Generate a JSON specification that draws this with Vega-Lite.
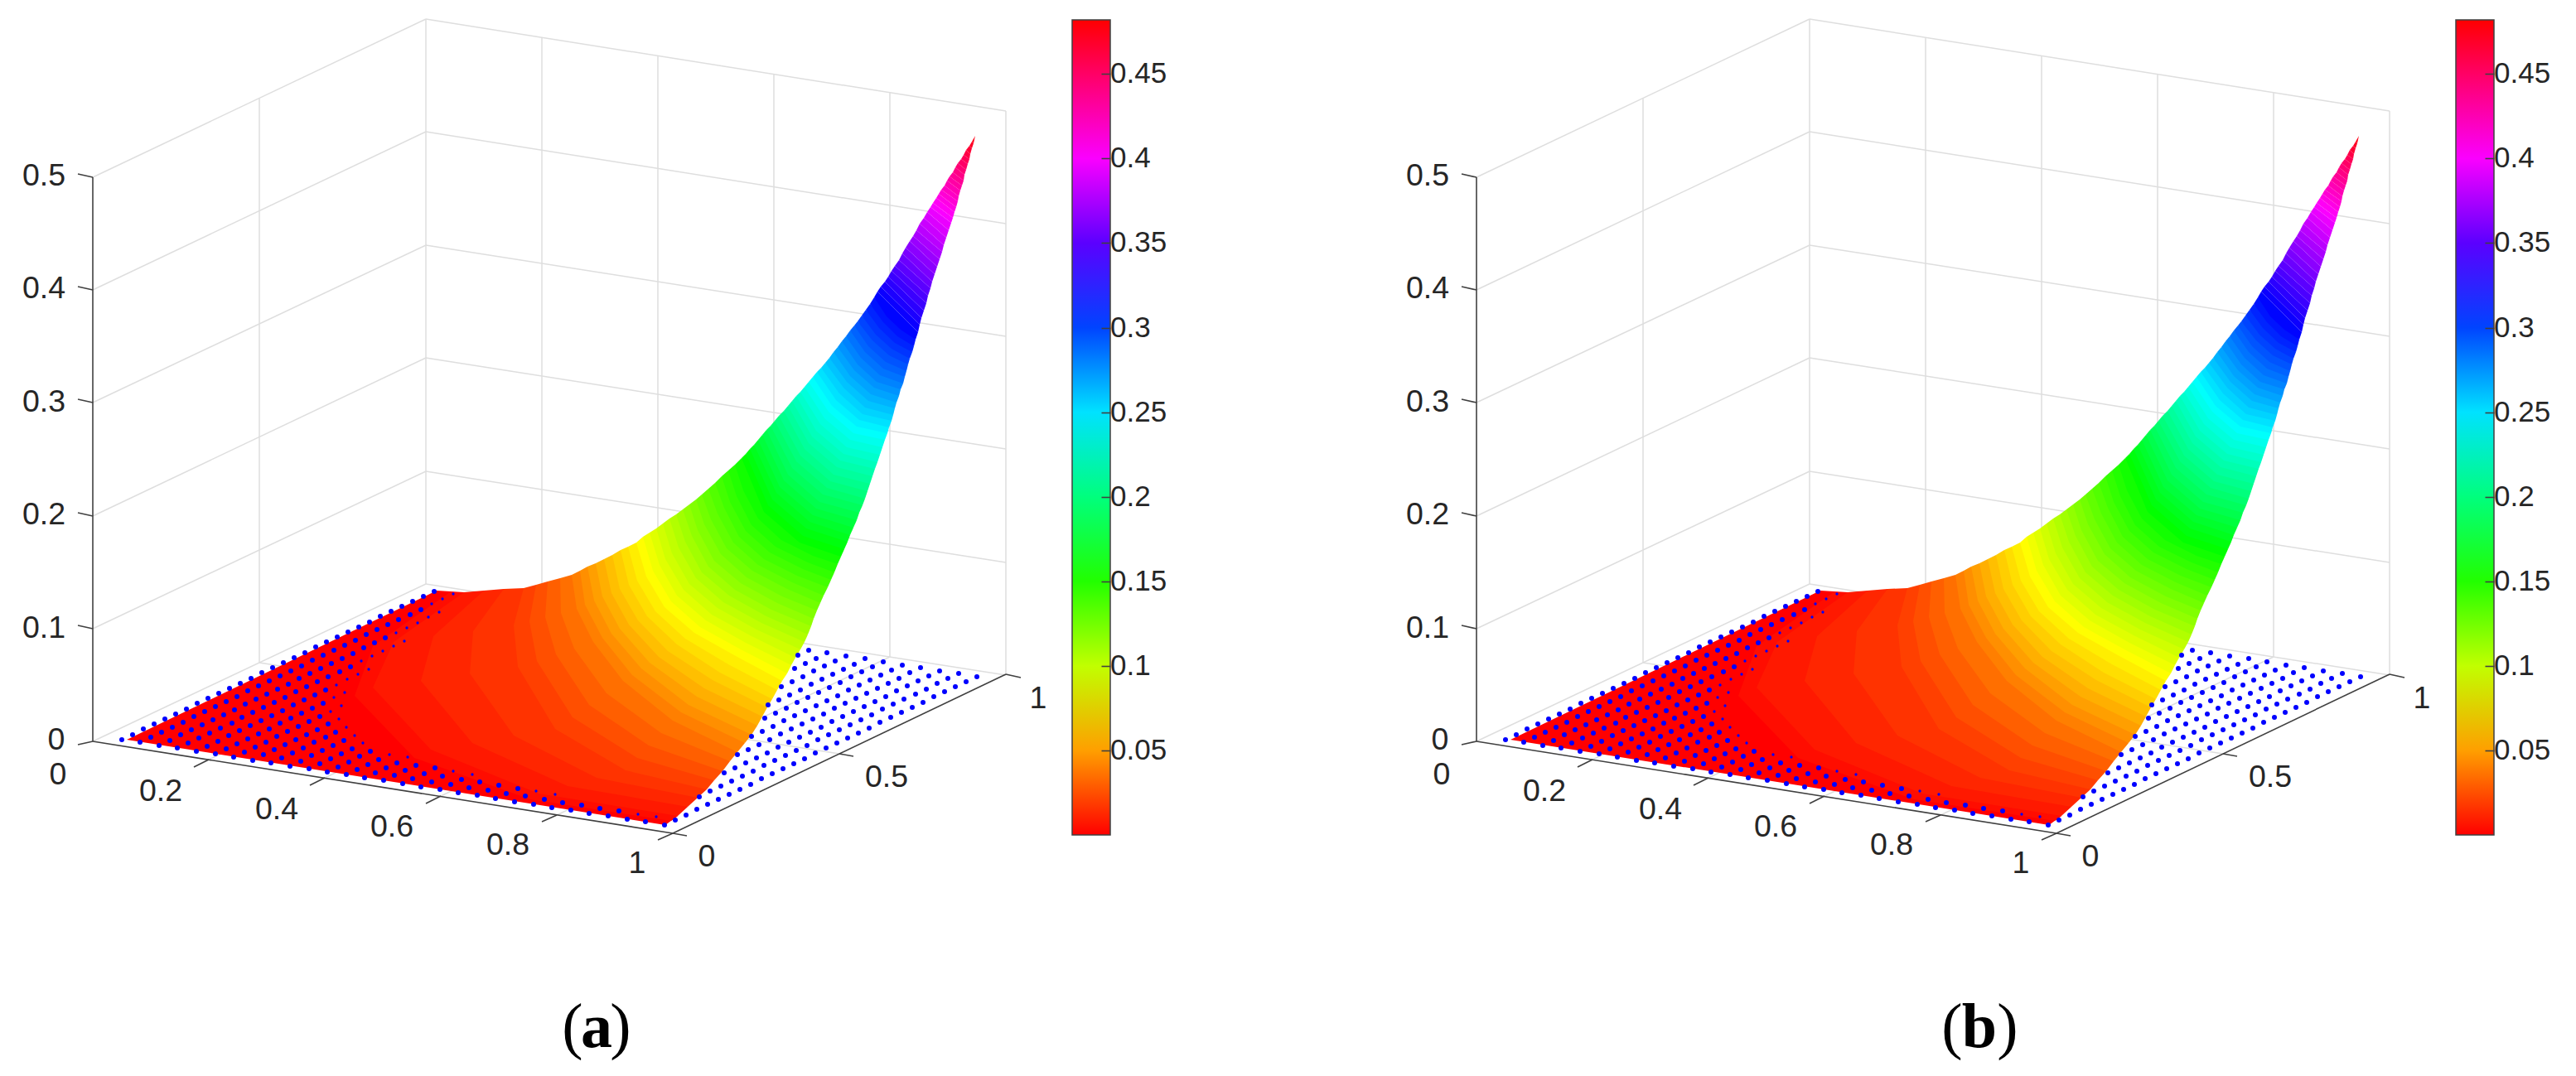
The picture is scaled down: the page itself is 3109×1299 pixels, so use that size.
{"$schema":"https://vega.github.io/schema/vega-lite/v6.json","padding":0,"spacing":240,"config":{"view":{"stroke":null}},
"resolve":{"scale":{"fill":"independent"},"legend":{"fill":"independent"}},
"datasets":{
"grid":[
{"x":514,"y":705,"x2":514,"y2":23},{"x":654,"y":727,"x2":654,"y2":45},{"x":794,"y":749,"x2":794,"y2":67},{"x":934,"y":771,"x2":934,"y2":90},{"x":1074,"y":793,"x2":1074,"y2":112},{"x":1214,"y":815,"x2":1214,"y2":134},{"x":313,"y":800,"x2":313,"y2":119},
{"x":112,"y":895,"x2":514,"y2":705},{"x":112,"y":759,"x2":514,"y2":569},{"x":112,"y":623,"x2":514,"y2":432},{"x":112,"y":486,"x2":514,"y2":296},{"x":112,"y":350,"x2":514,"y2":159},{"x":112,"y":214,"x2":514,"y2":23},
{"x":514,"y":705,"x2":1214,"y2":815},{"x":514,"y":569,"x2":1214,"y2":679},{"x":514,"y":432,"x2":1214,"y2":542},{"x":514,"y":296,"x2":1214,"y2":406},{"x":514,"y":159,"x2":1214,"y2":270},{"x":514,"y":23,"x2":1214,"y2":134},
{"x":252,"y":917,"x2":654,"y2":727},{"x":392,"y":939,"x2":794,"y2":749},{"x":532,"y":961,"x2":934,"y2":771},{"x":672,"y":984,"x2":1074,"y2":793},{"x":313,"y":800,"x2":1013,"y2":910}],
"axes":[
{"x":112,"y":214,"x2":112,"y2":895},{"x":112,"y":895,"x2":812,"y2":1006},{"x":812,"y":1006,"x2":1214,"y2":814},
{"x":112,"y":895,"x2":94,"y2":899},{"x":252,"y":917,"x2":234,"y2":926},{"x":392,"y":939,"x2":374,"y2":948},{"x":532,"y":961,"x2":514,"y2":970},{"x":672,"y":984,"x2":654,"y2":992},{"x":812,"y":1006,"x2":794,"y2":1014},
{"x":812,"y":1006,"x2":829,"y2":1009},{"x":1013,"y":910,"x2":1030,"y2":913},{"x":1214,"y":814,"x2":1232,"y2":818},
{"x":112,"y":759,"x2":94,"y2":755},{"x":112,"y":623,"x2":94,"y2":619},{"x":112,"y":486,"x2":94,"y2":482},{"x":112,"y":350,"x2":94,"y2":346},{"x":112,"y":214,"x2":94,"y2":210}],
"labels":[
{"x":53,"y":213,"t":"0.5"},{"x":53,"y":349,"t":"0.4"},{"x":53,"y":486,"t":"0.3"},{"x":53,"y":622,"t":"0.2"},{"x":53,"y":759,"t":"0.1"},{"x":68,"y":894,"t":"0"},
{"x":70,"y":936,"t":"0"},{"x":194,"y":956,"t":"0.2"},{"x":334,"y":978,"t":"0.4"},{"x":473,"y":999,"t":"0.6"},{"x":613,"y":1021,"t":"0.8"},{"x":769,"y":1043,"t":"1"},
{"x":853,"y":1035,"t":"0"},{"x":1070,"y":939,"t":"0.5"},{"x":1253,"y":844,"t":"1"}],
"dots":[
{"x":147,"y":893},{"x":169,"y":896},{"x":192,"y":900},{"x":214,"y":903},{"x":237,"y":907},{"x":260,"y":910},{"x":282,"y":914},{"x":305,"y":918},{"x":327,"y":921},{"x":350,"y":925},{"x":373,"y":928},{"x":395,"y":932},{"x":418,"y":935},{"x":440,"y":939},{"x":463,"y":942},{"x":486,"y":946},{"x":508,"y":950},{"x":531,"y":953},{"x":553,"y":957},{"x":576,"y":960},{"x":598,"y":964},{"x":621,"y":968},{"x":644,"y":971},{"x":666,"y":975},{"x":689,"y":978},{"x":711,"y":982},{"x":734,"y":985},{"x":757,"y":989},{"x":779,"y":992},{"x":802,"y":996},
{"x":160,"y":887},{"x":182,"y":890},{"x":205,"y":894},{"x":227,"y":897},{"x":250,"y":901},{"x":273,"y":904},{"x":295,"y":908},{"x":318,"y":911},{"x":340,"y":915},{"x":363,"y":919},{"x":386,"y":922},{"x":408,"y":926},{"x":431,"y":929},{"x":453,"y":933},{"x":476,"y":936},{"x":498,"y":940},{"x":521,"y":944},{"x":544,"y":947},{"x":566,"y":951},{"x":589,"y":954},{"x":611,"y":958},{"x":634,"y":961},{"x":657,"y":965},{"x":679,"y":969},{"x":702,"y":972},{"x":724,"y":976},{"x":747,"y":979},
{"x":173,"y":880},{"x":195,"y":884},{"x":218,"y":887},{"x":240,"y":891},{"x":263,"y":895},{"x":286,"y":898},{"x":308,"y":902},{"x":331,"y":905},{"x":353,"y":909},{"x":376,"y":912},{"x":399,"y":916},{"x":421,"y":920},{"x":444,"y":923},{"x":466,"y":927},{"x":489,"y":930},{"x":512,"y":934},{"x":534,"y":937},{"x":557,"y":941},{"x":579,"y":944},{"x":602,"y":948},{"x":625,"y":952},
{"x":186,"y":874},{"x":208,"y":878},{"x":231,"y":881},{"x":253,"y":885},{"x":276,"y":888},{"x":299,"y":892},{"x":321,"y":896},{"x":344,"y":899},{"x":366,"y":903},{"x":389,"y":906},{"x":412,"y":910},{"x":434,"y":913},{"x":457,"y":917},{"x":479,"y":921},{"x":502,"y":924},{"x":525,"y":927},
{"x":199,"y":868},{"x":221,"y":872},{"x":244,"y":875},{"x":266,"y":879},{"x":289,"y":882},{"x":312,"y":886},{"x":334,"y":889},{"x":357,"y":893},{"x":379,"y":896},{"x":402,"y":900},{"x":425,"y":904},{"x":447,"y":907},
{"x":212,"y":862},{"x":234,"y":865},{"x":257,"y":869},{"x":280,"y":873},{"x":302,"y":876},{"x":325,"y":880},{"x":347,"y":883},{"x":370,"y":887},{"x":393,"y":890},{"x":415,"y":894},
{"x":225,"y":856},{"x":247,"y":859},{"x":270,"y":863},{"x":292,"y":866},{"x":315,"y":870},{"x":338,"y":873},{"x":360,"y":877},{"x":383,"y":881},{"x":405,"y":884},
{"x":238,"y":849},{"x":260,"y":853},{"x":283,"y":857},{"x":305,"y":860},{"x":328,"y":864},{"x":351,"y":867},{"x":373,"y":871},{"x":396,"y":874},
{"x":251,"y":843},{"x":273,"y":847},{"x":296,"y":850},{"x":318,"y":854},{"x":341,"y":858},{"x":364,"y":861},{"x":386,"y":865},
{"x":264,"y":837},{"x":286,"y":841},{"x":309,"y":844},{"x":331,"y":848},{"x":354,"y":851},{"x":377,"y":855},
{"x":277,"y":831},{"x":299,"y":834},{"x":322,"y":838},{"x":344,"y":842},{"x":367,"y":845},{"x":390,"y":849},
{"x":290,"y":825},{"x":312,"y":828},{"x":335,"y":832},{"x":357,"y":835},{"x":380,"y":839},
{"x":303,"y":819},{"x":325,"y":822},{"x":348,"y":826},{"x":370,"y":829},{"x":393,"y":833},
{"x":316,"y":812},{"x":338,"y":816},{"x":361,"y":819},{"x":383,"y":823},
{"x":329,"y":806},{"x":351,"y":810},{"x":374,"y":813},{"x":396,"y":817},
{"x":342,"y":800},{"x":364,"y":804},{"x":387,"y":807},{"x":410,"y":811},
{"x":355,"y":794},{"x":377,"y":797},{"x":400,"y":801},{"x":423,"y":805},
{"x":368,"y":788},{"x":390,"y":791},{"x":413,"y":795},
{"x":381,"y":781},{"x":403,"y":785},{"x":426,"y":789},
{"x":394,"y":775},{"x":416,"y":779},{"x":439,"y":782},
{"x":407,"y":769},{"x":429,"y":773},{"x":452,"y":776},
{"x":420,"y":763},{"x":442,"y":766},{"x":465,"y":770},
{"x":433,"y":757},{"x":455,"y":760},
{"x":446,"y":751},{"x":468,"y":754},
{"x":459,"y":744},{"x":481,"y":748},
{"x":472,"y":738},{"x":495,"y":742},
{"x":485,"y":732},{"x":508,"y":736},
{"x":498,"y":726},{"x":511,"y":720},{"x":524,"y":714},
{"x":815,"y":990},{"x":828,"y":984},{"x":841,"y":977},{"x":854,"y":971},
{"x":844,"y":962},{"x":867,"y":965},{"x":857,"y":955},{"x":880,"y":959},{"x":870,"y":949},{"x":893,"y":953},{"x":883,"y":943},{"x":906,"y":947},
{"x":874,"y":933},{"x":896,"y":937},{"x":919,"y":940},{"x":887,"y":927},{"x":909,"y":931},{"x":932,"y":934},{"x":900,"y":921},{"x":922,"y":924},{"x":945,"y":928},
{"x":890,"y":911},{"x":913,"y":915},{"x":935,"y":918},{"x":958,"y":922},{"x":903,"y":905},{"x":926,"y":909},{"x":948,"y":912},{"x":971,"y":916},{"x":916,"y":899},{"x":939,"y":902},{"x":961,"y":906},{"x":984,"y":909},
{"x":907,"y":889},{"x":929,"y":893},{"x":952,"y":896},{"x":974,"y":900},{"x":997,"y":903},{"x":920,"y":883},{"x":942,"y":886},{"x":965,"y":890},{"x":987,"y":893},{"x":1010,"y":897},{"x":933,"y":877},{"x":955,"y":880},{"x":978,"y":884},{"x":1000,"y":887},{"x":1023,"y":891},
{"x":923,"y":867},{"x":946,"y":870},{"x":968,"y":874},{"x":991,"y":878},{"x":1013,"y":881},{"x":1036,"y":885},{"x":936,"y":861},{"x":959,"y":864},{"x":981,"y":868},{"x":1004,"y":871},{"x":1026,"y":875},{"x":1049,"y":879},
{"x":927,"y":851},{"x":949,"y":855},{"x":972,"y":858},{"x":994,"y":862},{"x":1017,"y":865},{"x":1039,"y":869},{"x":1062,"y":872},{"x":940,"y":845},{"x":962,"y":848},{"x":985,"y":852},{"x":1007,"y":855},{"x":1030,"y":859},{"x":1052,"y":863},{"x":1075,"y":866},{"x":953,"y":839},{"x":975,"y":842},{"x":998,"y":846},{"x":1020,"y":849},{"x":1043,"y":853},{"x":1065,"y":856},{"x":1088,"y":860},
{"x":943,"y":829},{"x":966,"y":833},{"x":988,"y":836},{"x":1011,"y":840},{"x":1033,"y":843},{"x":1056,"y":847},{"x":1078,"y":850},{"x":1101,"y":854},{"x":956,"y":823},{"x":979,"y":826},{"x":1001,"y":830},{"x":1024,"y":833},{"x":1046,"y":837},{"x":1069,"y":841},{"x":1091,"y":844},{"x":1114,"y":848},{"x":969,"y":817},{"x":992,"y":820},{"x":1014,"y":824},{"x":1037,"y":827},{"x":1059,"y":831},{"x":1082,"y":834},{"x":1105,"y":838},{"x":1127,"y":841},
{"x":959,"y":807},{"x":982,"y":810},{"x":1005,"y":814},{"x":1027,"y":817},{"x":1050,"y":821},{"x":1072,"y":825},{"x":1095,"y":828},{"x":1118,"y":832},{"x":1140,"y":835},{"x":972,"y":801},{"x":995,"y":804},{"x":1018,"y":808},{"x":1040,"y":811},{"x":1063,"y":815},{"x":1085,"y":819},{"x":1108,"y":822},{"x":1131,"y":825},{"x":1153,"y":829},
{"x":963,"y":791},{"x":985,"y":795},{"x":1008,"y":798},{"x":1031,"y":802},{"x":1053,"y":805},{"x":1076,"y":809},{"x":1098,"y":812},{"x":1121,"y":816},{"x":1144,"y":819},{"x":1166,"y":823},{"x":976,"y":785},{"x":998,"y":788},{"x":1021,"y":792},{"x":1044,"y":795},{"x":1066,"y":799},{"x":1089,"y":803},{"x":1111,"y":806},{"x":1134,"y":810},{"x":1157,"y":813},{"x":1179,"y":817}],
"dotsFaint":[
{"x":770,"y":983},{"x":792,"y":986},{"x":647,"y":955},{"x":670,"y":959},{"x":547,"y":931},{"x":570,"y":935},{"x":470,"y":911},{"x":492,"y":914},{"x":438,"y":897},{"x":428,"y":888},{"x":418,"y":878},{"x":409,"y":868},{"x":399,"y":859},{"x":412,"y":852},{"x":403,"y":842},{"x":416,"y":836},{"x":406,"y":827},{"x":419,"y":820},{"x":432,"y":814},{"x":445,"y":808},{"x":436,"y":798},{"x":449,"y":792},{"x":462,"y":786},{"x":475,"y":780},{"x":488,"y":774},{"x":478,"y":764},{"x":491,"y":758},{"x":504,"y":752},{"x":517,"y":745},{"x":530,"y":739},{"x":521,"y":729},{"x":534,"y":723},{"x":547,"y":717}],
"surface":[
{"x":153,"y":893,"z":0},{"x":527,"y":713,"z":0},{"x":560,"y":715,"z":0},{"x":818,"y":985,"z":0},{"x":803,"y":996,"z":0},
{"x":543,"y":715,"z":0.004},{"x":450,"y":780,"z":0.004},{"x":428,"y":840,"z":0.004},{"x":500,"y":915,"z":0.004},{"x":640,"y":965,"z":0.004},{"x":810,"y":991,"z":0.004},{"x":818,"y":985,"z":0.004},{"x":560,"y":715,"z":0.004},
{"x":560,"y":715,"z":0.008},{"x":475,"y":775,"z":0.008},{"x":450,"y":830,"z":0.008},{"x":520,"y":905,"z":0.008},{"x":650,"y":958,"z":0.008},{"x":818,"y":985,"z":0.008},{"x":830,"y":974,"z":0.008},{"x":584,"y":713,"z":0.008},
{"x":584,"y":713,"z":0.012},{"x":523,"y":768,"z":0.012},{"x":508,"y":822,"z":0.012},{"x":570,"y":897,"z":0.012},{"x":685,"y":949,"z":0.012},{"x":830,"y":974,"z":0.012},{"x":842,"y":963,"z":0.012},{"x":608,"y":711,"z":0.012},
{"x":608,"y":711,"z":0.016},{"x":571,"y":762,"z":0.016},{"x":567,"y":813,"z":0.016},{"x":620,"y":888,"z":0.016},{"x":720,"y":939,"z":0.016},{"x":842,"y":963,"z":0.016},{"x":853,"y":953,"z":0.016},{"x":632,"y":710,"z":0.016},
{"x":632,"y":710,"z":0.02},{"x":620,"y":755,"z":0.02},{"x":625,"y":805,"z":0.02},{"x":670,"y":880,"z":0.02},{"x":755,"y":930,"z":0.02},{"x":853,"y":953,"z":0.02},{"x":862,"y":942,"z":0.02},{"x":647,"y":706,"z":0.02},
{"x":647,"y":706,"z":0.025},{"x":639,"y":750,"z":0.025},{"x":648,"y":798,"z":0.025},{"x":691,"y":866,"z":0.025},{"x":769,"y":915,"z":0.025},{"x":862,"y":942,"z":0.025},{"x":872,"y":931,"z":0.025},{"x":661,"y":702,"z":0.025},
{"x":661,"y":702,"z":0.03},{"x":658,"y":745,"z":0.03},{"x":671,"y":790,"z":0.03},{"x":711,"y":851,"z":0.03},{"x":783,"y":900,"z":0.03},{"x":872,"y":931,"z":0.03},{"x":881,"y":919,"z":0.03},{"x":676,"y":698,"z":0.03},
{"x":676,"y":698,"z":0.035},{"x":677,"y":740,"z":0.035},{"x":693,"y":783,"z":0.035},{"x":732,"y":837,"z":0.035},{"x":798,"y":885,"z":0.035},{"x":881,"y":919,"z":0.035},{"x":890,"y":908,"z":0.035},{"x":690,"y":694,"z":0.035},
{"x":690,"y":694,"z":0.04},{"x":696,"y":735,"z":0.04},{"x":716,"y":775,"z":0.04},{"x":752,"y":822,"z":0.04},{"x":812,"y":870,"z":0.04},{"x":890,"y":908,"z":0.04},{"x":899,"y":897,"z":0.04},{"x":700,"y":689,"z":0.04},
{"x":700,"y":689,"z":0.045},{"x":706,"y":730,"z":0.045},{"x":727,"y":770,"z":0.045},{"x":763,"y":815,"z":0.045},{"x":822,"y":860,"z":0.045},{"x":899,"y":897,"z":0.045},{"x":907,"y":887,"z":0.045},{"x":709,"y":684,"z":0.045},
{"x":709,"y":684,"z":0.05},{"x":717,"y":725,"z":0.05},{"x":738,"y":765,"z":0.05},{"x":774,"y":807,"z":0.05},{"x":831,"y":851,"z":0.05},{"x":907,"y":887,"z":0.05},{"x":914,"y":876,"z":0.05},{"x":719,"y":680,"z":0.05},
{"x":719,"y":680,"z":0.055},{"x":727,"y":720,"z":0.055},{"x":748,"y":759,"z":0.055},{"x":784,"y":800,"z":0.055},{"x":841,"y":841,"z":0.055},{"x":914,"y":876,"z":0.055},{"x":920,"y":865,"z":0.055},{"x":729,"y":675,"z":0.055},
{"x":729,"y":675,"z":0.06},{"x":738,"y":716,"z":0.06},{"x":759,"y":754,"z":0.06},{"x":795,"y":793,"z":0.06},{"x":850,"y":831,"z":0.06},{"x":920,"y":865,"z":0.06},{"x":926,"y":854,"z":0.06},{"x":739,"y":670,"z":0.06},
{"x":739,"y":670,"z":0.065},{"x":748,"y":711,"z":0.065},{"x":770,"y":749,"z":0.065},{"x":806,"y":786,"z":0.065},{"x":860,"y":821,"z":0.065},{"x":926,"y":854,"z":0.065},{"x":932,"y":844,"z":0.065},{"x":749,"y":664,"z":0.065},
{"x":749,"y":664,"z":0.07},{"x":759,"y":706,"z":0.07},{"x":781,"y":744,"z":0.07},{"x":817,"y":778,"z":0.07},{"x":869,"y":812,"z":0.07},{"x":932,"y":844,"z":0.07},{"x":938,"y":833,"z":0.07},{"x":758,"y":660,"z":0.07},
{"x":758,"y":660,"z":0.075},{"x":769,"y":701,"z":0.075},{"x":791,"y":738,"z":0.075},{"x":827,"y":771,"z":0.075},{"x":879,"y":802,"z":0.075},{"x":938,"y":833,"z":0.075},{"x":944,"y":822,"z":0.075},{"x":768,"y":655,"z":0.075},
{"x":768,"y":655,"z":0.08},{"x":780,"y":696,"z":0.08},{"x":802,"y":733,"z":0.08},{"x":838,"y":764,"z":0.08},{"x":888,"y":792,"z":0.08},{"x":944,"y":822,"z":0.08},{"x":950,"y":813,"z":0.08},{"x":776,"y":648,"z":0.08},
{"x":776,"y":648,"z":0.085},{"x":788,"y":689,"z":0.085},{"x":810,"y":726,"z":0.085},{"x":845,"y":757,"z":0.085},{"x":894,"y":784,"z":0.085},{"x":950,"y":813,"z":0.085},{"x":955,"y":803,"z":0.085},{"x":784,"y":643,"z":0.085},
{"x":784,"y":643,"z":0.09},{"x":796,"y":682,"z":0.09},{"x":817,"y":719,"z":0.09},{"x":852,"y":749,"z":0.09},{"x":900,"y":776,"z":0.09},{"x":955,"y":803,"z":0.09},{"x":960,"y":794,"z":0.09},{"x":792,"y":638,"z":0.09},
{"x":792,"y":638,"z":0.095},{"x":803,"y":675,"z":0.095},{"x":825,"y":712,"z":0.095},{"x":859,"y":742,"z":0.095},{"x":907,"y":768,"z":0.095},{"x":960,"y":794,"z":0.095},{"x":966,"y":784,"z":0.095},{"x":800,"y":632,"z":0.095},
{"x":800,"y":632,"z":0.1},{"x":811,"y":668,"z":0.1},{"x":832,"y":705,"z":0.1},{"x":866,"y":734,"z":0.1},{"x":913,"y":760,"z":0.1},{"x":966,"y":784,"z":0.1},{"x":971,"y":775,"z":0.1},{"x":808,"y":626,"z":0.1},
{"x":808,"y":626,"z":0.105},{"x":819,"y":661,"z":0.105},{"x":840,"y":698,"z":0.105},{"x":873,"y":727,"z":0.105},{"x":919,"y":752,"z":0.105},{"x":971,"y":775,"z":0.105},{"x":975,"y":766,"z":0.105},{"x":816,"y":621,"z":0.105},
{"x":816,"y":621,"z":0.11},{"x":827,"y":654,"z":0.11},{"x":847,"y":691,"z":0.11},{"x":880,"y":719,"z":0.11},{"x":925,"y":744,"z":0.11},{"x":975,"y":766,"z":0.11},{"x":979,"y":756,"z":0.11},{"x":824,"y":615,"z":0.11},
{"x":824,"y":615,"z":0.115},{"x":835,"y":647,"z":0.115},{"x":855,"y":684,"z":0.115},{"x":887,"y":712,"z":0.115},{"x":931,"y":736,"z":0.115},{"x":979,"y":756,"z":0.115},{"x":982,"y":747,"z":0.115},{"x":832,"y":609,"z":0.115},
{"x":832,"y":609,"z":0.12},{"x":842,"y":640,"z":0.12},{"x":862,"y":677,"z":0.12},{"x":894,"y":704,"z":0.12},{"x":938,"y":728,"z":0.12},{"x":982,"y":747,"z":0.12},{"x":986,"y":737,"z":0.12},{"x":840,"y":603,"z":0.12},
{"x":840,"y":603,"z":0.125},{"x":850,"y":633,"z":0.125},{"x":870,"y":669,"z":0.125},{"x":901,"y":697,"z":0.125},{"x":944,"y":720,"z":0.125},{"x":986,"y":737,"z":0.125},{"x":990,"y":728,"z":0.125},{"x":847,"y":597,"z":0.125},
{"x":847,"y":597,"z":0.13},{"x":858,"y":627,"z":0.13},{"x":877,"y":662,"z":0.13},{"x":908,"y":689,"z":0.13},{"x":950,"y":711,"z":0.13},{"x":990,"y":728,"z":0.13},{"x":994,"y":719,"z":0.13},{"x":855,"y":590,"z":0.13},
{"x":855,"y":590,"z":0.135},{"x":866,"y":620,"z":0.135},{"x":885,"y":655,"z":0.135},{"x":915,"y":682,"z":0.135},{"x":956,"y":703,"z":0.135},{"x":994,"y":719,"z":0.135},{"x":999,"y":709,"z":0.135},{"x":863,"y":583,"z":0.135},
{"x":863,"y":583,"z":0.14},{"x":874,"y":613,"z":0.14},{"x":892,"y":648,"z":0.14},{"x":922,"y":675,"z":0.14},{"x":962,"y":695,"z":0.14},{"x":999,"y":709,"z":0.14},{"x":1003,"y":700,"z":0.14},{"x":871,"y":575,"z":0.14},
{"x":871,"y":575,"z":0.145},{"x":881,"y":606,"z":0.145},{"x":900,"y":641,"z":0.145},{"x":929,"y":667,"z":0.145},{"x":969,"y":687,"z":0.145},{"x":1003,"y":700,"z":0.145},{"x":1007,"y":691,"z":0.145},{"x":879,"y":568,"z":0.145},
{"x":879,"y":568,"z":0.15},{"x":889,"y":599,"z":0.15},{"x":907,"y":634,"z":0.15},{"x":936,"y":660,"z":0.15},{"x":975,"y":679,"z":0.15},{"x":1007,"y":691,"z":0.15},{"x":1011,"y":681,"z":0.15},{"x":887,"y":561,"z":0.15},
{"x":887,"y":561,"z":0.155},{"x":897,"y":592,"z":0.155},{"x":915,"y":626,"z":0.155},{"x":943,"y":652,"z":0.155},{"x":981,"y":671,"z":0.155},{"x":1011,"y":681,"z":0.155},{"x":1015,"y":672,"z":0.155},{"x":895,"y":553,"z":0.155},
{"x":895,"y":553,"z":0.16},{"x":922,"y":618,"z":0.16},{"x":965,"y":655,"z":0.16},{"x":1015,"y":672,"z":0.16},{"x":1019,"y":663,"z":0.16},{"x":900,"y":548,"z":0.16},
{"x":900,"y":548,"z":0.165},{"x":927,"y":610,"z":0.165},{"x":969,"y":647,"z":0.165},{"x":1019,"y":663,"z":0.165},{"x":1023,"y":654,"z":0.165},{"x":905,"y":542,"z":0.165},
{"x":905,"y":542,"z":0.17},{"x":932,"y":603,"z":0.17},{"x":973,"y":638,"z":0.17},{"x":1023,"y":654,"z":0.17},{"x":1026,"y":646,"z":0.17},{"x":910,"y":537,"z":0.17},
{"x":910,"y":537,"z":0.175},{"x":937,"y":595,"z":0.175},{"x":977,"y":630,"z":0.175},{"x":1026,"y":646,"z":0.175},{"x":1030,"y":637,"z":0.175},{"x":915,"y":531,"z":0.175},
{"x":915,"y":531,"z":0.18},{"x":941,"y":588,"z":0.18},{"x":981,"y":622,"z":0.18},{"x":1030,"y":637,"z":0.18},{"x":1034,"y":628,"z":0.18},{"x":920,"y":525,"z":0.18},
{"x":920,"y":525,"z":0.185},{"x":946,"y":580,"z":0.185},{"x":985,"y":614,"z":0.185},{"x":1034,"y":628,"z":0.185},{"x":1037,"y":619,"z":0.185},{"x":925,"y":519,"z":0.185},
{"x":925,"y":519,"z":0.19},{"x":951,"y":573,"z":0.19},{"x":989,"y":606,"z":0.19},{"x":1037,"y":619,"z":0.19},{"x":1041,"y":610,"z":0.19},{"x":930,"y":514,"z":0.19},
{"x":930,"y":514,"z":0.195},{"x":956,"y":565,"z":0.195},{"x":993,"y":597,"z":0.195},{"x":1041,"y":610,"z":0.195},{"x":1044,"y":602,"z":0.195},{"x":935,"y":508,"z":0.195},
{"x":935,"y":508,"z":0.2},{"x":961,"y":557,"z":0.2},{"x":998,"y":589,"z":0.2},{"x":1044,"y":602,"z":0.2},{"x":1047,"y":593,"z":0.2},{"x":940,"y":502,"z":0.2},
{"x":940,"y":502,"z":0.205},{"x":966,"y":550,"z":0.205},{"x":1002,"y":581,"z":0.205},{"x":1047,"y":593,"z":0.205},{"x":1050,"y":584,"z":0.205},{"x":946,"y":496,"z":0.205},
{"x":946,"y":496,"z":0.21},{"x":971,"y":542,"z":0.21},{"x":1006,"y":573,"z":0.21},{"x":1050,"y":584,"z":0.21},{"x":1053,"y":575,"z":0.21},{"x":951,"y":490,"z":0.21},
{"x":951,"y":490,"z":0.215},{"x":976,"y":535,"z":0.215},{"x":1010,"y":564,"z":0.215},{"x":1053,"y":575,"z":0.215},{"x":1056,"y":566,"z":0.215},{"x":956,"y":484,"z":0.215},
{"x":956,"y":484,"z":0.22},{"x":980,"y":527,"z":0.22},{"x":1014,"y":556,"z":0.22},{"x":1056,"y":566,"z":0.22},{"x":1059,"y":558,"z":0.22},{"x":961,"y":478,"z":0.22},
{"x":961,"y":478,"z":0.225},{"x":985,"y":520,"z":0.225},{"x":1018,"y":548,"z":0.225},{"x":1059,"y":558,"z":0.225},{"x":1062,"y":549,"z":0.225},{"x":966,"y":473,"z":0.225},
{"x":966,"y":473,"z":0.23},{"x":990,"y":512,"z":0.23},{"x":1022,"y":540,"z":0.23},{"x":1062,"y":549,"z":0.23},{"x":1065,"y":540,"z":0.23},{"x":971,"y":467,"z":0.23},
{"x":971,"y":467,"z":0.235},{"x":995,"y":505,"z":0.235},{"x":1026,"y":531,"z":0.235},{"x":1065,"y":540,"z":0.235},{"x":1068,"y":531,"z":0.235},{"x":976,"y":461,"z":0.235},
{"x":976,"y":461,"z":0.24},{"x":1000,"y":497,"z":0.24},{"x":1030,"y":523,"z":0.24},{"x":1068,"y":531,"z":0.24},{"x":1071,"y":523,"z":0.24},{"x":981,"y":455,"z":0.24},
{"x":981,"y":455,"z":0.245},{"x":1004,"y":490,"z":0.245},{"x":1034,"y":515,"z":0.245},{"x":1071,"y":523,"z":0.245},{"x":1073,"y":516,"z":0.245},{"x":986,"y":449,"z":0.245},
{"x":986,"y":449,"z":0.25},{"x":1009,"y":483,"z":0.25},{"x":1037,"y":507,"z":0.25},{"x":1073,"y":516,"z":0.25},{"x":1076,"y":508,"z":0.25},{"x":991,"y":444,"z":0.25},
{"x":991,"y":444,"z":0.255},{"x":1013,"y":475,"z":0.255},{"x":1041,"y":500,"z":0.255},{"x":1076,"y":508,"z":0.255},{"x":1078,"y":501,"z":0.255},{"x":996,"y":438,"z":0.255},
{"x":996,"y":438,"z":0.26},{"x":1018,"y":468,"z":0.26},{"x":1044,"y":492,"z":0.26},{"x":1078,"y":501,"z":0.26},{"x":1080,"y":493,"z":0.26},{"x":1001,"y":432,"z":0.26},
{"x":1001,"y":432,"z":0.265},{"x":1022,"y":461,"z":0.265},{"x":1048,"y":484,"z":0.265},{"x":1080,"y":493,"z":0.265},{"x":1082,"y":486,"z":0.265},{"x":1006,"y":425,"z":0.265},
{"x":1006,"y":425,"z":0.27},{"x":1026,"y":454,"z":0.27},{"x":1051,"y":476,"z":0.27},{"x":1082,"y":486,"z":0.27},{"x":1085,"y":478,"z":0.27},{"x":1011,"y":419,"z":0.27},
{"x":1011,"y":419,"z":0.275},{"x":1031,"y":447,"z":0.275},{"x":1055,"y":468,"z":0.275},{"x":1085,"y":478,"z":0.275},{"x":1087,"y":470,"z":0.275},{"x":1016,"y":412,"z":0.275},
{"x":1016,"y":412,"z":0.28},{"x":1035,"y":440,"z":0.28},{"x":1058,"y":461,"z":0.28},{"x":1087,"y":470,"z":0.28},{"x":1090,"y":463,"z":0.28},{"x":1021,"y":406,"z":0.28},
{"x":1021,"y":406,"z":0.285},{"x":1039,"y":432,"z":0.285},{"x":1062,"y":453,"z":0.285},{"x":1090,"y":463,"z":0.285},{"x":1092,"y":455,"z":0.285},{"x":1026,"y":399,"z":0.285},
{"x":1026,"y":399,"z":0.29},{"x":1044,"y":425,"z":0.29},{"x":1066,"y":445,"z":0.29},{"x":1092,"y":455,"z":0.29},{"x":1094,"y":448,"z":0.29},{"x":1031,"y":393,"z":0.29},
{"x":1031,"y":393,"z":0.295},{"x":1048,"y":418,"z":0.295},{"x":1069,"y":437,"z":0.295},{"x":1094,"y":448,"z":0.295},{"x":1096,"y":440,"z":0.295},{"x":1035,"y":388,"z":0.295},
{"x":1035,"y":388,"z":0.3},{"x":1053,"y":411,"z":0.3},{"x":1073,"y":429,"z":0.3},{"x":1096,"y":440,"z":0.3},{"x":1098,"y":433,"z":0.3},{"x":1040,"y":381,"z":0.3},
{"x":1040,"y":381,"z":0.305},{"x":1057,"y":404,"z":0.305},{"x":1076,"y":421,"z":0.305},{"x":1098,"y":433,"z":0.305},{"x":1101,"y":425,"z":0.305},{"x":1045,"y":374,"z":0.305},
{"x":1045,"y":374,"z":0.31},{"x":1061,"y":396,"z":0.31},{"x":1080,"y":414,"z":0.31},{"x":1101,"y":425,"z":0.31},{"x":1103,"y":418,"z":0.31},{"x":1050,"y":367,"z":0.31},
{"x":1050,"y":367,"z":0.315},{"x":1066,"y":389,"z":0.315},{"x":1083,"y":406,"z":0.315},{"x":1103,"y":418,"z":0.315},{"x":1105,"y":410,"z":0.315},{"x":1055,"y":359,"z":0.315},
{"x":1055,"y":359,"z":0.32},{"x":1070,"y":382,"z":0.32},{"x":1087,"y":398,"z":0.32},{"x":1105,"y":410,"z":0.32},{"x":1108,"y":401,"z":0.32},{"x":1059,"y":352,"z":0.32},
{"x":1059,"y":352,"z":0.325},{"x":1108,"y":401,"z":0.325},{"x":1110,"y":392,"z":0.325},{"x":1063,"y":346,"z":0.325},
{"x":1063,"y":346,"z":0.33},{"x":1110,"y":392,"z":0.33},{"x":1112,"y":384,"z":0.33},{"x":1068,"y":340,"z":0.33},
{"x":1068,"y":340,"z":0.335},{"x":1112,"y":384,"z":0.335},{"x":1115,"y":375,"z":0.335},{"x":1072,"y":334,"z":0.335},
{"x":1072,"y":334,"z":0.34},{"x":1115,"y":375,"z":0.34},{"x":1118,"y":366,"z":0.34},{"x":1076,"y":327,"z":0.34},
{"x":1076,"y":327,"z":0.345},{"x":1118,"y":366,"z":0.345},{"x":1120,"y":357,"z":0.345},{"x":1080,"y":321,"z":0.345},
{"x":1080,"y":321,"z":0.35},{"x":1120,"y":357,"z":0.35},{"x":1123,"y":348,"z":0.35},{"x":1085,"y":314,"z":0.35},
{"x":1085,"y":314,"z":0.355},{"x":1123,"y":348,"z":0.355},{"x":1125,"y":340,"z":0.355},{"x":1089,"y":306,"z":0.355},
{"x":1089,"y":306,"z":0.36},{"x":1125,"y":340,"z":0.36},{"x":1128,"y":331,"z":0.36},{"x":1093,"y":299,"z":0.36},
{"x":1093,"y":299,"z":0.365},{"x":1128,"y":331,"z":0.365},{"x":1131,"y":322,"z":0.365},{"x":1098,"y":291,"z":0.365},
{"x":1098,"y":291,"z":0.37},{"x":1131,"y":322,"z":0.37},{"x":1134,"y":313,"z":0.37},{"x":1102,"y":285,"z":0.37},
{"x":1102,"y":285,"z":0.375},{"x":1134,"y":313,"z":0.375},{"x":1137,"y":304,"z":0.375},{"x":1106,"y":278,"z":0.375},
{"x":1106,"y":278,"z":0.38},{"x":1137,"y":304,"z":0.38},{"x":1139,"y":296,"z":0.38},{"x":1110,"y":270,"z":0.38},
{"x":1110,"y":270,"z":0.385},{"x":1139,"y":296,"z":0.385},{"x":1142,"y":287,"z":0.385},{"x":1115,"y":263,"z":0.385},
{"x":1115,"y":263,"z":0.39},{"x":1142,"y":287,"z":0.39},{"x":1145,"y":278,"z":0.39},{"x":1119,"y":256,"z":0.39},
{"x":1119,"y":256,"z":0.395},{"x":1145,"y":278,"z":0.395},{"x":1148,"y":269,"z":0.395},{"x":1123,"y":250,"z":0.395},
{"x":1123,"y":250,"z":0.4},{"x":1148,"y":269,"z":0.4},{"x":1150,"y":263,"z":0.4},{"x":1126,"y":245,"z":0.4},
{"x":1126,"y":245,"z":0.405},{"x":1150,"y":263,"z":0.405},{"x":1152,"y":256,"z":0.405},{"x":1130,"y":239,"z":0.405},
{"x":1130,"y":239,"z":0.41},{"x":1152,"y":256,"z":0.41},{"x":1154,"y":250,"z":0.41},{"x":1133,"y":234,"z":0.41},
{"x":1133,"y":234,"z":0.415},{"x":1154,"y":250,"z":0.415},{"x":1156,"y":243,"z":0.415},{"x":1136,"y":229,"z":0.415},
{"x":1136,"y":229,"z":0.42},{"x":1156,"y":243,"z":0.42},{"x":1157,"y":237,"z":0.42},{"x":1140,"y":224,"z":0.42},
{"x":1140,"y":224,"z":0.425},{"x":1157,"y":237,"z":0.425},{"x":1159,"y":230,"z":0.425},{"x":1143,"y":218,"z":0.425},
{"x":1143,"y":218,"z":0.43},{"x":1159,"y":230,"z":0.43},{"x":1161,"y":224,"z":0.43},{"x":1146,"y":213,"z":0.43},
{"x":1146,"y":213,"z":0.435},{"x":1161,"y":224,"z":0.435},{"x":1163,"y":218,"z":0.435},{"x":1150,"y":208,"z":0.435},
{"x":1150,"y":208,"z":0.44},{"x":1163,"y":218,"z":0.44},{"x":1164,"y":211,"z":0.44},{"x":1153,"y":202,"z":0.44},
{"x":1153,"y":202,"z":0.445},{"x":1164,"y":211,"z":0.445},{"x":1166,"y":205,"z":0.445},{"x":1156,"y":197,"z":0.445},
{"x":1156,"y":197,"z":0.45},{"x":1166,"y":205,"z":0.45},{"x":1168,"y":198,"z":0.45},{"x":1160,"y":192,"z":0.45},
{"x":1160,"y":192,"z":0.455},{"x":1168,"y":198,"z":0.455},{"x":1170,"y":192,"z":0.455},{"x":1163,"y":187,"z":0.455},
{"x":1163,"y":187,"z":0.46},{"x":1170,"y":192,"z":0.46},{"x":1171,"y":186,"z":0.46},{"x":1166,"y":181,"z":0.46},
{"x":1166,"y":181,"z":0.465},{"x":1171,"y":186,"z":0.465},{"x":1173,"y":179,"z":0.465},{"x":1170,"y":176,"z":0.465},
{"x":1170,"y":176,"z":0.47},{"x":1173,"y":179,"z":0.47},{"x":1175,"y":173,"z":0.47},{"x":1173,"y":171,"z":0.47},
{"x":1173,"y":171,"z":0.475},{"x":1175,"y":173,"z":0.475},{"x":1177,"y":164,"z":0.475}]
},
"hconcat":[
{"width":1430,"height":1299,
"encoding":{"x":{"field":"x","type":"quantitative","axis":null,"scale":{"domain":[0,1430],"nice":false,"zero":false}},"y":{"field":"y","type":"quantitative","scale":{"domain":[0,1299],"reverse":true,"nice":false,"zero":false},"axis":{"orient":"right","offset":-90,"values":[89,191,293,396,498,600,702,804,906],"title":null,"labels":false,"domain":false,"grid":false,"tickSize":-11,"tickColor":"#404040","tickWidth":1.6,"zindex":1}}},
"layer":[
{"data":{"name":"grid"},"mark":{"type":"rule","color":"#dedede","strokeWidth":1.5},"encoding":{"x2":{"field":"x2"},"y2":{"field":"y2"}}},
{"data":{"name":"axes"},"mark":{"type":"rule","color":"#404040","strokeWidth":1.6},"encoding":{"x2":{"field":"x2"},"y2":{"field":"y2"}}},
{"data":{"name":"surface"},"mark":{"type":"line","filled":true,"order":false,"interpolate":"linear-closed"},"encoding":{"detail":{"field":"z","type":"nominal"},
"fill":{"field":"z","type":"quantitative","scale":{"domain":[0,0.0803,0.1607,0.241,0.3213,0.4017,0.482],"range":["#ff0000","#ffff00","#00ff00","#00ffff","#0000ff","#ff00ff","#ff0000"],"interpolate":"rgb"},
"legend":{"title":null,"orient":"none","legendX":1294,"legendY":24,"direction":"vertical","gradientThickness":46,"gradientLength":984,"gradientStrokeColor":"#404040","gradientStrokeWidth":1.5,"values":[0.05,0.1,0.15,0.2,0.25,0.3,0.35,0.4,0.45],"format":".2~f","labelFont":"Liberation Sans","labelFontSize":35,"labelColor":"#262626","labelOffset":0,"labelOverlap":false}}}},
{"data":{"name":"dots"},"mark":{"type":"point","filled":true,"shape":"circle","size":36,"opacity":1,"color":"#0000ff"}},
{"data":{"name":"dotsFaint"},"mark":{"type":"point","filled":true,"shape":"circle","size":11,"opacity":1,"color":"#0000ff"}},
{"data":{"name":"labels"},"mark":{"type":"text","font":"Liberation Sans","fontSize":37.5,"color":"#262626"},"encoding":{"text":{"field":"t"}}},
{"data":{"values":[{"x":691,"y":1264,"t":"("},{"x":749,"y":1264,"t":")"}]},"mark":{"type":"text","font":"Liberation Serif","fontSize":76,"baseline":"alphabetic","color":"#000000"},"encoding":{"text":{"field":"t"}}},
{"data":{"values":[{"x":720,"y":1264,"t":"a"}]},"mark":{"type":"text","font":"Liberation Serif","fontSize":76,"fontWeight":"bold","baseline":"alphabetic","color":"#000000"},"encoding":{"text":{"field":"t"}}}
]},
{"width":1430,"height":1299,
"encoding":{"x":{"field":"x","type":"quantitative","axis":null,"scale":{"domain":[0,1430],"nice":false,"zero":false}},"y":{"field":"y","type":"quantitative","scale":{"domain":[0,1299],"reverse":true,"nice":false,"zero":false},"axis":{"orient":"right","offset":-90,"values":[89,191,293,396,498,600,702,804,906],"title":null,"labels":false,"domain":false,"grid":false,"tickSize":-11,"tickColor":"#404040","tickWidth":1.6,"zindex":1}}},
"layer":[
{"data":{"name":"grid"},"mark":{"type":"rule","color":"#dedede","strokeWidth":1.5},"encoding":{"x2":{"field":"x2"},"y2":{"field":"y2"}}},
{"data":{"name":"axes"},"mark":{"type":"rule","color":"#404040","strokeWidth":1.6},"encoding":{"x2":{"field":"x2"},"y2":{"field":"y2"}}},
{"data":{"name":"surface"},"mark":{"type":"line","filled":true,"order":false,"interpolate":"linear-closed"},"encoding":{"detail":{"field":"z","type":"nominal"},
"fill":{"field":"z","type":"quantitative","scale":{"domain":[0,0.0803,0.1607,0.241,0.3213,0.4017,0.482],"range":["#ff0000","#ffff00","#00ff00","#00ffff","#0000ff","#ff00ff","#ff0000"],"interpolate":"rgb"},
"legend":{"title":null,"orient":"none","legendX":1294,"legendY":24,"direction":"vertical","gradientThickness":46,"gradientLength":984,"gradientStrokeColor":"#404040","gradientStrokeWidth":1.5,"values":[0.05,0.1,0.15,0.2,0.25,0.3,0.35,0.4,0.45],"format":".2~f","labelFont":"Liberation Sans","labelFontSize":35,"labelColor":"#262626","labelOffset":0,"labelOverlap":false}}}},
{"data":{"name":"dots"},"mark":{"type":"point","filled":true,"shape":"circle","size":36,"opacity":1,"color":"#0000ff"}},
{"data":{"name":"dotsFaint"},"mark":{"type":"point","filled":true,"shape":"circle","size":11,"opacity":1,"color":"#0000ff"}},
{"data":{"name":"labels"},"mark":{"type":"text","font":"Liberation Sans","fontSize":37.5,"color":"#262626"},"encoding":{"text":{"field":"t"}}},
{"data":{"values":[{"x":686,"y":1264,"t":"("},{"x":753,"y":1264,"t":")"}]},"mark":{"type":"text","font":"Liberation Serif","fontSize":76,"baseline":"alphabetic","color":"#000000"},"encoding":{"text":{"field":"t"}}},
{"data":{"values":[{"x":719,"y":1264,"t":"b"}]},"mark":{"type":"text","font":"Liberation Serif","fontSize":76,"fontWeight":"bold","baseline":"alphabetic","color":"#000000"},"encoding":{"text":{"field":"t"}}}
]}
]}
